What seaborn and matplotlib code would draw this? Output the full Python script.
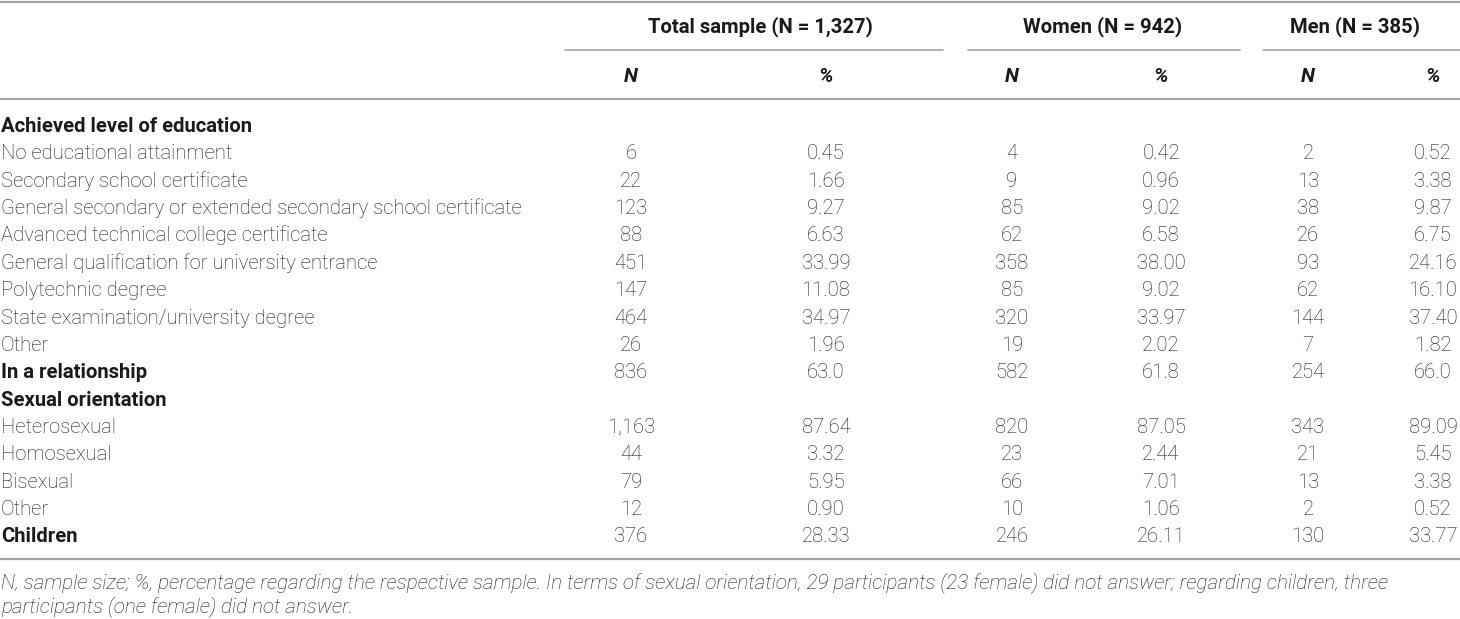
import matplotlib
matplotlib.use("Agg")
import matplotlib.pyplot as plt
import seaborn as sns

# ---- data ----
row_labels = [
    "Achieved level of education",
    "No educational attainment",
    "Secondary school certificate",
    "General secondary or extended secondary school certificate",
    "Advanced technical college certificate",
    "General qualification for university entrance",
    "Polytechnic degree",
    "State examination/university degree",
    "Other",
    "In a relationship",
    "Sexual orientation",
    "Heterosexual",
    "Homosexual",
    "Bisexual",
    "Other",
    "Children",
]
bold_rows = ["Achieved level of education", "In a relationship", "Sexual orientation", "Children"]

total_n = ["", "6", "22", "123", "88", "451", "147", "464", "26", "836", "", "1,163", "44", "79", "12", "376"]
total_pct = ["", "0.45", "1.66", "9.27", "6.63", "33.99", "11.08", "34.97", "1.96", "63.0", "", "87.64", "3.32", "5.95", "0.90", "28.33"]
women_n = ["", "4", "9", "85", "62", "358", "85", "320", "19", "582", "", "820", "23", "66", "10", "246"]
women_pct = ["", "0.42", "0.96", "9.02", "6.58", "38.00", "9.02", "33.97", "2.02", "61.8", "", "87.05", "2.44", "7.01", "1.06", "26.11"]
men_n = ["", "2", "13", "38", "26", "93", "62", "144", "7", "254", "", "343", "21", "13", "2", "130"]
men_pct = ["", "0.52", "3.38", "9.87", "6.75", "24.16", "16.10", "37.40", "1.82", "66.0", "", "89.09", "5.45", "3.38", "0.52", "33.77"]

group_headers = ["Total sample (N = 1,327)", "Women (N = 942)", "Men (N = 385)"]
sub_headers = ["N", "%"]
footnote_lines = [
    "N, sample size; %, percentage regarding the respective sample. In terms of sexual orientation, "
    "29 participants (23 female) did not answer; regarding children, three",
    "participants (one female) did not answer.",
]

# ---- layout ----
sns.set_theme(style="white")
plt.rcParams["font.family"] = ["Roboto", "DejaVu Sans"]

W, H = 1460, 619
fig = plt.figure(figsize=(W / 100, H / 100), dpi=100)
ax = fig.add_axes([0, 0, 1, 1])
ax.set_xlim(0, W)
ax.set_ylim(H, 0)
ax.axis("off")

txt = "#1a1a1a"
rule = "#a6a6a6"
fs = 14.6

group_spans = [(565, 943), (968, 1240), (1263, 1460)]
header_x = [760, 1103, 1355]
col_x = [631, 826, 1012, 1161, 1308, 1433]
columns = [total_n, total_pct, women_n, women_pct, men_n, men_pct]

# rules
ax.plot([0, W], [1.5, 1.5], color=rule, lw=1.6)
for x0, x1 in group_spans:
    ax.plot([x0, x1], [50, 50], color=rule, lw=1.2)
ax.plot([0, W], [99, 99], color=rule, lw=1.6)
ax.plot([0, W], [559, 559], color=rule, lw=1.6)

# headers
for x, h in zip(header_x, group_headers):
    ax.text(x, 32, h, ha="center", va="baseline", fontsize=fs,
            fontweight="bold", color=txt)
for i, x in enumerate(col_x):
    ax.text(x, 82, sub_headers[i % 2], ha="center", va="baseline", fontsize=fs,
            fontweight="bold", fontstyle="italic", color=txt)

# body
y0, dy = 132, 27.36
for r, lab in enumerate(row_labels):
    y = y0 + r * dy
    ax.text(1, y, lab, ha="left", va="baseline", fontsize=fs, color=txt,
            fontweight="bold" if lab in bold_rows else "light")
    for x, col in zip(col_x, columns):
        ax.text(x, y, col[r], ha="center", va="baseline", fontsize=fs,
                color=txt, fontweight="light")

for k, line in enumerate(footnote_lines):
    ax.text(1, 588 + k * 24, line, ha="left", va="baseline", fontsize=14.9,
            fontstyle="italic", fontweight="light", color=txt)

fig.savefig("out.png", dpi=100)
